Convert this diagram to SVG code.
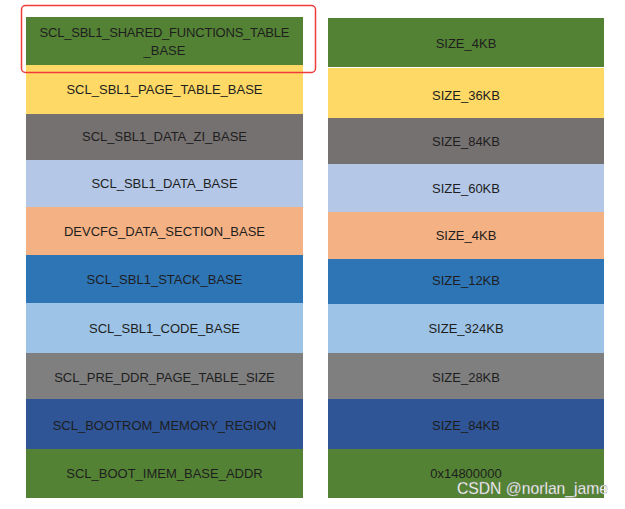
<svg xmlns="http://www.w3.org/2000/svg" width="625" height="509" viewBox="0 0 625 509">
<style>
text{font-family:"Liberation Sans","Noto Sans",Arial,sans-serif;font-size:13px;fill:#1e1e1e;text-anchor:middle;dominant-baseline:central}
.g{fill:#548235}.y{fill:#FFD966}.gr{fill:#767171}.lb{fill:#B4C7E7}.o{fill:#F4B183}.b{fill:#2E75B6}.lb2{fill:#9DC3E6}.gr2{fill:#7F7F7F}.db{fill:#2F5597}
.wm{fill:#ffffff;font-size:15.7px;text-anchor:start;dominant-baseline:auto;stroke:#888;stroke-width:0.3}
</style>
<rect width="625" height="509" fill="#ffffff"/>
<g id="left">
<g id="l1"><rect class="g" x="26" y="17" width="277" height="48"/><text x="164.5" y="32" textLength="250">SCL_SBL1_SHARED_FUNCTIONS_TABLE</text><text x="164.5" y="50">_BASE</text></g>
<g id="l2"><rect class="y" x="26" y="65" width="277" height="49"/><text x="164.5" y="89.5">SCL_SBL1_PAGE_TABLE_BASE</text></g>
<g id="l3"><rect class="gr" x="26" y="114" width="277" height="46"/><text x="164.5" y="136">SCL_SBL1_DATA_ZI_BASE</text></g>
<g id="l4"><rect class="lb" x="26" y="160" width="277" height="47"/><text x="164.5" y="183.5">SCL_SBL1_DATA_BASE</text></g>
<g id="l5"><rect class="o" x="26" y="207" width="277" height="48"/><text x="164.5" y="231">DEVCFG_DATA_SECTION_BASE</text></g>
<g id="l6"><rect class="b" x="26" y="255" width="277" height="48"/><text x="164.5" y="279">SCL_SBL1_STACK_BASE</text></g>
<g id="l7"><rect class="lb2" x="26" y="303" width="277" height="50"/><text x="164.5" y="328">SCL_SBL1_CODE_BASE</text></g>
<g id="l8"><rect class="gr2" x="26" y="353" width="277" height="46"/><text x="164.5" y="377">SCL_PRE_DDR_PAGE_TABLE_SIZE</text></g>
<g id="l9"><rect class="db" x="26" y="399" width="277" height="50"/><text x="164.5" y="425">SCL_BOOTROM_MEMORY_REGION</text></g>
<g id="l10"><rect class="g" x="26" y="449" width="277" height="49"/><text x="164.5" y="473">SCL_BOOT_IMEM_BASE_ADDR</text></g>
</g>
<g id="right">
<g id="r1"><rect class="g" x="328" y="18" width="276" height="49"/><text x="466" y="43">SIZE_4KB</text></g>
<g id="r2"><rect class="y" x="328" y="68" width="276" height="50"/><text x="466" y="95">SIZE_36KB</text></g>
<g id="r3"><rect class="gr" x="328" y="118" width="276" height="46"/><text x="466" y="141">SIZE_84KB</text></g>
<g id="r4"><rect class="lb" x="328" y="164" width="276" height="48"/><text x="466" y="188">SIZE_60KB</text></g>
<g id="r5"><rect class="o" x="328" y="212" width="276" height="47"/><text x="466" y="235">SIZE_4KB</text></g>
<g id="r6"><rect class="b" x="328" y="259" width="276" height="45"/><text x="466" y="280">SIZE_12KB</text></g>
<g id="r7"><rect class="lb2" x="328" y="304" width="276" height="49"/><text x="466" y="328">SIZE_324KB</text></g>
<g id="r8"><rect class="gr2" x="328" y="353" width="276" height="46"/><text x="466" y="377">SIZE_28KB</text></g>
<g id="r9"><rect class="db" x="328" y="399" width="276" height="50"/><text x="466" y="425">SIZE_84KB</text></g>
<g id="r10"><rect class="g" x="328" y="449" width="276" height="49"/><text x="466" y="473">0x14800000</text></g>
</g>
<g id="highlight"><rect x="21.5" y="5.5" width="294" height="67" rx="4" fill="none" stroke="#EE3B3B" stroke-width="1.5"/></g>
<text class="wm" x="457" y="494">CSDN @norlan_jame</text>
</svg>
